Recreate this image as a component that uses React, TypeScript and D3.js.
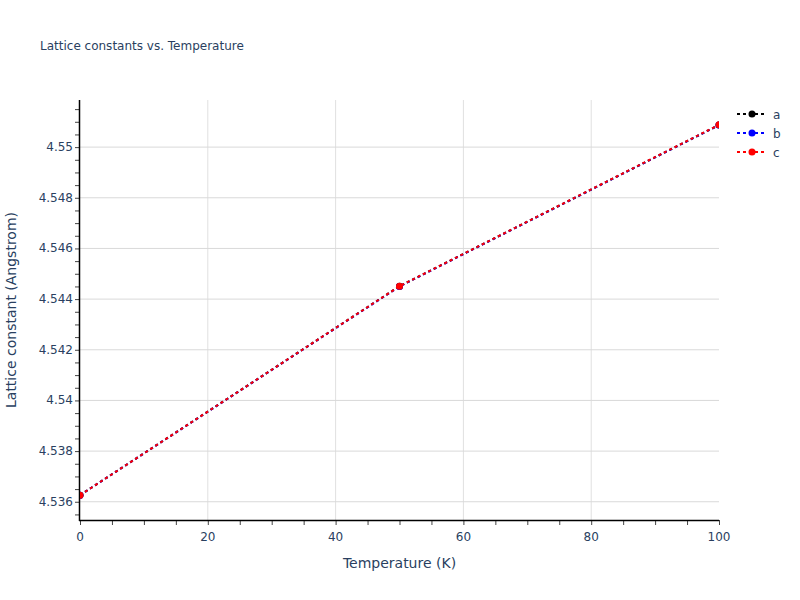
import React, { useEffect, useRef } from 'react';
import * as d3 from 'd3';

// temperatures (K) and lattice constants (Angstrom)
const temps = [0, 50, 100];
const latticeA = [4.53626, 4.54451, 4.55087];
const latticeB = [4.53626, 4.54450, 4.55087];
const latticeC = [4.53626, 4.54451, 4.55088];

const seriesNames = ['a', 'b', 'c'];
const seriesColors = ['#000000', '#0000ff', '#ff0000'];

const xTicks = [0, 20, 40, 60, 80, 100];
const yTicks = [4.536, 4.538, 4.54, 4.542, 4.544, 4.546, 4.548, 4.55];

const W = 800;
const H = 600;
const margin = { left: 80, right: 81, top: 100, bottom: 80 };
const font = '"DejaVu Sans", verdana, arial, sans-serif';
const textColor = '#2a3f5f';

export default function App() {
  const svgRef = useRef<SVGSVGElement>(null);

  useEffect(() => {
    if (!svgRef.current) return;
    const svg = d3.select(svgRef.current);
    svg.selectAll('*').remove();

    const x = d3.scaleLinear().domain([0, 100]).range([margin.left, W - margin.right]);
    const y = d3.scaleLinear().domain([4.53528, 4.55186]).range([H - margin.bottom, margin.top]);

    svg.append('rect').attr('width', W).attr('height', H).attr('fill', '#fff');

    // clip
    svg.append('defs').append('clipPath').attr('id', 'plot-clip')
      .append('rect')
      .attr('x', margin.left).attr('y', margin.top)
      .attr('width', W - margin.left - margin.right)
      .attr('height', H - margin.top - margin.bottom);

    // grid
    const grid = svg.append('g');
    grid.selectAll('line.gx').data(xTicks.slice(1, -1)).join('line')
      .attr('x1', d => x(d)).attr('x2', d => x(d))
      .attr('y1', margin.top).attr('y2', H - margin.bottom)
      .attr('stroke', '#e0e0e0').attr('stroke-width', 1);
    grid.selectAll('line.gy').data(yTicks).join('line')
      .attr('x1', margin.left).attr('x2', W - margin.right)
      .attr('y1', d => y(d)).attr('y2', d => y(d))
      .attr('stroke', '#d9d9d9').attr('stroke-width', 1);

    // axes
    const xAxis = d3.axisBottom(x).tickValues(d3.range(0, 100.1, 5)).tickSize(5).tickFormat(() => '');
    const yAxis = d3.axisLeft(y).tickValues(d3.range(4.5355, 4.5519, 0.0005)).tickSize(5).tickFormat(() => '');

    const gx = svg.append('g').attr('transform', `translate(0,${H - margin.bottom})`).call(xAxis);
    gx.select('.domain').remove();
    gx.selectAll('.tick line').attr('stroke', '#444');
    svg.append('line')
      .attr('x1', margin.left - 1).attr('x2', W - margin.right)
      .attr('y1', H - margin.bottom + 0.5).attr('y2', H - margin.bottom + 0.5)
      .attr('stroke', '#000').attr('stroke-width', 1.5);

    const gy = svg.append('g').attr('transform', `translate(${margin.left},0)`).call(yAxis);
    gy.select('.domain').remove();
    gy.selectAll('.tick line').attr('stroke', '#444');
    svg.append('line')
      .attr('x1', margin.left - 0.5).attr('x2', margin.left - 0.5)
      .attr('y1', margin.top).attr('y2', H - margin.bottom + 1)
      .attr('stroke', '#000').attr('stroke-width', 1.5);

    // tick labels
    svg.append('g').selectAll('text').data(xTicks).join('text')
      .attr('x', d => x(d)).attr('y', H - margin.bottom + 21)
      .attr('text-anchor', 'middle')
      .attr('font-family', font).attr('font-size', 12).attr('fill', textColor)
      .text(d => d3.format('d')(d));
    svg.append('g').selectAll('text').data(yTicks).join('text')
      .attr('x', margin.left - 7).attr('y', d => y(d) + 4)
      .attr('text-anchor', 'end')
      .attr('font-family', font).attr('font-size', 12).attr('fill', textColor)
      .text(d => d3.format('~g')(+d.toFixed(3)));

    // axis titles
    svg.append('text')
      .attr('x', (margin.left + W - margin.right) / 2).attr('y', 568)
      .attr('text-anchor', 'middle')
      .attr('font-family', font).attr('font-size', 14).attr('fill', textColor)
      .text('Temperature (K)');
    svg.append('text')
      .attr('transform', `translate(16,${(margin.top + H - margin.bottom) / 2}) rotate(-90)`)
      .attr('text-anchor', 'middle')
      .attr('font-family', font).attr('font-size', 14).attr('fill', textColor)
      .text('Lattice constant (Angstrom)');

    // title
    svg.append('text')
      .attr('x', 40).attr('y', 50)
      .attr('font-family', font).attr('font-size', 12).attr('fill', textColor)
      .text('Lattice constants vs. Temperature');

    // series
    const series = [latticeA, latticeB, latticeC];
    const line = d3.line<number>().x((_, i) => x(temps[i])).y(d => y(d));
    const plot = svg.append('g').attr('clip-path', 'url(#plot-clip)');
    series.forEach((vals, si) => {
      plot.append('path')
        .datum(vals)
        .attr('d', line)
        .attr('fill', 'none')
        .attr('stroke', seriesColors[si])
        .attr('stroke-width', 2)
        .attr('stroke-dasharray', '3,3');
      plot.append('g').selectAll('circle').data(vals).join('circle')
        .attr('cx', (_, i) => x(temps[i])).attr('cy', d => y(d))
        .attr('r', 3.5).attr('fill', seriesColors[si]);
    });

    // legend
    const legend = svg.append('g').attr('transform', 'translate(737,114)');
    seriesNames.forEach((name, i) => {
      const g = legend.append('g').attr('transform', `translate(0,${i * 19})`);
      g.append('line').attr('x1', 0).attr('x2', 30).attr('y1', 0).attr('y2', 0)
        .attr('stroke', seriesColors[i]).attr('stroke-width', 2).attr('stroke-dasharray', '3,3');
      g.append('circle').attr('cx', 15).attr('cy', 0).attr('r', 3.5).attr('fill', seriesColors[i]);
      g.append('text').attr('x', 36).attr('y', 4.5)
        .attr('font-family', font).attr('font-size', 12).attr('fill', textColor)
        .text(name);
    });
  }, []);

  return (
    <div>
      <svg ref={svgRef} width={W} height={H} style={{ display: 'block', position: 'absolute', left: 0, top: 0 }} />
    </div>
  );
}
